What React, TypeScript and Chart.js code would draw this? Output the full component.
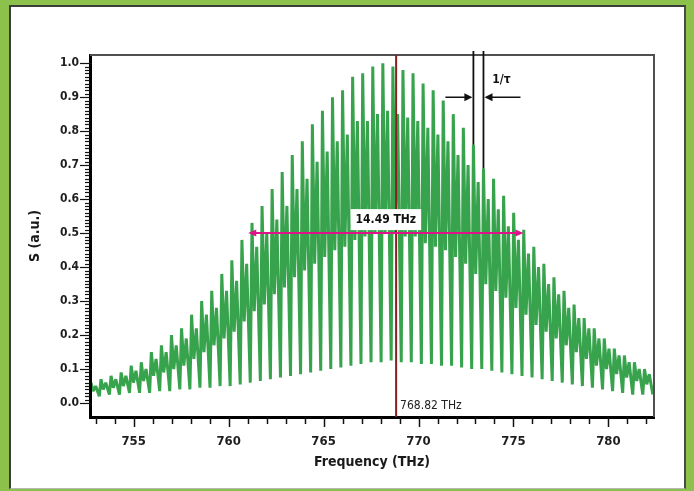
import React, { useEffect, useRef } from 'react';
import { Chart, registerables } from 'chart.js';

Chart.register(...registerables);

// ---- Data ----
const fringeFreqs = [
  752.75, 753.28, 753.81, 754.34, 754.87, 755.40, 755.93, 756.46, 756.99, 757.52,
  758.05, 758.58, 759.11, 759.64, 760.17, 760.70, 761.23, 761.76, 762.29, 762.82,
  763.35, 763.88, 764.41, 764.94, 765.47, 766.00, 766.53, 767.06, 767.59, 768.12,
  768.65, 769.18, 769.71, 770.24, 770.77, 771.30, 771.83, 772.36, 772.89, 773.42,
  773.95, 774.48, 775.01, 775.54, 776.07, 776.60, 777.13, 777.66, 778.19, 778.72,
  779.25, 779.78, 780.31, 780.84, 781.37, 781.90,
];
const peakS = [
  0.06, 0.07, 0.08, 0.09, 0.11, 0.12, 0.15, 0.17, 0.20, 0.22,
  0.26, 0.30, 0.33, 0.38, 0.42, 0.48, 0.53, 0.58, 0.63, 0.68,
  0.73, 0.77, 0.82, 0.86, 0.90, 0.92, 0.96, 0.97, 0.99, 1.00,
  0.99, 0.98, 0.97, 0.94, 0.92, 0.89, 0.85, 0.81, 0.76, 0.69,
  0.66, 0.61, 0.56, 0.51, 0.46, 0.41, 0.37, 0.33, 0.29, 0.25,
  0.22, 0.19, 0.16, 0.14, 0.12, 0.10,
];
const dipS = [
  0.035, 0.04, 0.045, 0.05, 0.06, 0.065, 0.08, 0.09, 0.10, 0.11,
  0.13, 0.15, 0.17, 0.19, 0.21, 0.24, 0.27, 0.29, 0.32, 0.34,
  0.37, 0.39, 0.41, 0.43, 0.45, 0.46, 0.48, 0.49, 0.50, 0.50,
  0.50, 0.49, 0.49, 0.47, 0.46, 0.45, 0.43, 0.41, 0.38, 0.35,
  0.33, 0.31, 0.28, 0.26, 0.23, 0.21, 0.19, 0.17, 0.15, 0.13,
  0.11, 0.10, 0.085, 0.075, 0.065, 0.055,
];
const midS = [
  0.05, 0.06, 0.07, 0.08, 0.095, 0.10, 0.13, 0.15, 0.17, 0.19,
  0.22, 0.26, 0.28, 0.33, 0.36, 0.41, 0.46, 0.50, 0.54, 0.58,
  0.63, 0.66, 0.71, 0.74, 0.77, 0.79, 0.83, 0.83, 0.85, 0.86,
  0.85, 0.84, 0.83, 0.81, 0.79, 0.77, 0.73, 0.70, 0.65, 0.60,
  0.57, 0.52, 0.48, 0.44, 0.40, 0.35, 0.32, 0.28, 0.25, 0.22,
  0.19, 0.16, 0.14, 0.12, 0.10, 0.085,
];
const troughS = [
  0.02, 0.02, 0.025, 0.025, 0.03, 0.03, 0.03, 0.035, 0.035, 0.04,
  0.04, 0.045, 0.045, 0.05, 0.05, 0.055, 0.06, 0.065, 0.07, 0.075,
  0.08, 0.085, 0.09, 0.095, 0.10, 0.105, 0.11, 0.115, 0.12, 0.12,
  0.125, 0.12, 0.12, 0.115, 0.115, 0.11, 0.11, 0.105, 0.10, 0.10,
  0.095, 0.09, 0.085, 0.08, 0.075, 0.07, 0.065, 0.06, 0.055, 0.05,
  0.045, 0.04, 0.035, 0.03, 0.025, 0.025,
];

const xTickValues = [755, 760, 765, 770, 775, 780];
const yTickValues = [0.0, 0.1, 0.2, 0.3, 0.4, 0.5, 0.6, 0.7, 0.8, 0.9, 1.0];

const X_MIN = 752.7;
const X_MAX = 782.4;
const Y_MIN = -0.041;
const Y_MAX = 1.024;

const centerFreq = 768.82;
const centerLabel = '768.82 THz';
const fwhmCenter = 768.28;
const fwhm = 14.49;
const fwhmLabel = '14.49 THz';
const halfLevel = 0.5;
const tauFringes = [38, 39];
const tauArrowLevel = 0.9;
const tauLabel = '1/τ';

// position of the sub-features inside one fringe (THz, relative to the peak)
const troughOffset = -0.09;
const dipOffset = 0.12;
const midOffset = 0.25;
const lastTroughOffset = 0.44;

const FONT = "'DejaVu Sans Condensed', 'Liberation Sans Narrow', 'DejaVu Sans', sans-serif";

function buildPoints() {
  const pts: { x: number; y: number }[] = [];
  for (let i = 0; i < fringeFreqs.length; i++) {
    const f = fringeFreqs[i];
    pts.push({ x: f + troughOffset, y: troughS[i] });
    pts.push({ x: f, y: peakS[i] });
    pts.push({ x: f + dipOffset, y: dipS[i] });
    pts.push({ x: f + midOffset, y: midS[i] });
  }
  const last = fringeFreqs.length - 1;
  pts.push({ x: fringeFreqs[last] + lastTroughOffset, y: troughS[last] });
  return pts;
}

function arrowHead(ctx: CanvasRenderingContext2D, tipX: number, tipY: number, dir: number, len: number, half: number) {
  ctx.beginPath();
  ctx.moveTo(tipX, tipY);
  ctx.lineTo(tipX - dir * len, tipY - half);
  ctx.lineTo(tipX - dir * len, tipY + half);
  ctx.closePath();
  ctx.fill();
}

const overlayPlugin = {
  id: 'overlay',
  afterDraw(chart: any) {
    const { ctx, chartArea: ca } = chart;
    const xs = chart.scales.x;
    const ys = chart.scales.y;
    ctx.save();

    // top / right frame
    ctx.strokeStyle = '#505050';
    ctx.lineWidth = 2;
    ctx.beginPath();
    ctx.moveTo(ca.left, ca.top);
    ctx.lineTo(ca.right, ca.top);
    ctx.lineTo(ca.right, ca.bottom);
    ctx.stroke();

    // ticks
    ctx.strokeStyle = '#111';
    ctx.lineWidth = 1.5;
    for (let v = Math.ceil(X_MIN); v <= X_MAX; v += 1) {
      const px = Math.round(xs.getPixelForValue(v)) + 0.5;
      const major = xTickValues.includes(v);
      ctx.beginPath();
      ctx.moveTo(px, ca.bottom);
      ctx.lineTo(px, ca.bottom + (major ? 10 : 7));
      ctx.stroke();
    }
    ctx.lineWidth = 1.2;
    for (let k = 0; k <= 100; k++) {
      const v = k / 100;
      const py = Math.round(ys.getPixelForValue(v)) + 0.5;
      const major = k % 10 === 0;
      ctx.beginPath();
      ctx.moveTo(ca.left - (major ? 10 : 5), py);
      ctx.lineTo(ca.left + (major ? 2 : 0), py);
      ctx.stroke();
    }

    // centre frequency line
    const rx = xs.getPixelForValue(centerFreq);
    ctx.strokeStyle = '#8b1e1e';
    ctx.lineWidth = 2;
    ctx.beginPath();
    ctx.moveTo(rx, ca.top);
    ctx.lineTo(rx, ca.bottom);
    ctx.stroke();

    // centre label
    ctx.font = `12px ${FONT}`;
    const cw = ctx.measureText(centerLabel).width;
    ctx.fillStyle = '#fff';
    ctx.fillRect(rx + 2, ca.bottom - 20, cw + 6, 19);
    ctx.fillStyle = '#222';
    ctx.textBaseline = 'middle';
    ctx.textAlign = 'left';
    ctx.fillText(centerLabel, rx + 4, ca.bottom - 11);

    // FWHM arrow
    const hy = ys.getPixelForValue(halfLevel);
    const x1 = xs.getPixelForValue(fwhmCenter - fwhm / 2);
    const x2 = xs.getPixelForValue(fwhmCenter + fwhm / 2);
    ctx.strokeStyle = '#e0128a';
    ctx.fillStyle = '#e0128a';
    ctx.lineWidth = 2;
    ctx.beginPath();
    ctx.moveTo(x1 + 4, hy);
    ctx.lineTo(x2 - 4, hy);
    ctx.stroke();
    arrowHead(ctx, x1, hy, -1, 8, 3.5);
    arrowHead(ctx, x2, hy, 1, 8, 3.5);

    const fx = xs.getPixelForValue(fwhmCenter);
    ctx.font = `bold 12px ${FONT}`;
    const fw = ctx.measureText(fwhmLabel).width;
    ctx.fillStyle = '#fff';
    ctx.fillRect(fx - fw / 2 - 5, hy - 24, fw + 10, 21);
    ctx.fillStyle = '#111';
    ctx.textAlign = 'center';
    ctx.fillText(fwhmLabel, fx, hy - 13);

    // 1/tau markers
    const ty = ys.getPixelForValue(tauArrowLevel);
    const lx = xs.getPixelForValue(fringeFreqs[tauFringes[0]]);
    const rx2 = xs.getPixelForValue(fringeFreqs[tauFringes[1]]);
    ctx.strokeStyle = '#111';
    ctx.fillStyle = '#111';
    ctx.lineWidth = 1.8;
    ctx.beginPath();
    ctx.moveTo(lx, ca.top - 4);
    ctx.lineTo(lx, ys.getPixelForValue(peakS[tauFringes[0]]));
    ctx.moveTo(rx2, ca.top - 4);
    ctx.lineTo(rx2, ys.getPixelForValue(peakS[tauFringes[1]]));
    ctx.stroke();
    ctx.lineWidth = 1.5;
    ctx.beginPath();
    ctx.moveTo(lx - 28, ty);
    ctx.lineTo(lx - 6, ty);
    ctx.moveTo(rx2 + 37, ty);
    ctx.lineTo(rx2 + 6, ty);
    ctx.stroke();
    arrowHead(ctx, lx - 1, ty, 1, 8, 4);
    arrowHead(ctx, rx2 + 1, ty, -1, 8, 4);
    ctx.font = `bold 12px ${FONT}`;
    ctx.textAlign = 'center';
    ctx.fillText(tauLabel, rx2 + 18, ty - 17);

    ctx.restore();
  },
};

export default function App() {
  const ref = useRef<HTMLCanvasElement | null>(null);

  useEffect(() => {
    const canvas = ref.current;
    if (!canvas) return;
    const chart = new Chart(canvas, {
      type: 'line',
      data: {
        datasets: [
          {
            data: buildPoints(),
            borderColor: '#38a34d',
            borderWidth: 3,
            borderJoinStyle: 'bevel',
            borderCapStyle: 'butt',
            pointRadius: 0,
            tension: 0,
            fill: false,
          },
        ],
      },
      options: {
        responsive: false,
        animation: false,
        events: [],
        layout: { padding: { left: 0, top: 55, right: 40, bottom: 0 } },
        plugins: { legend: { display: false }, tooltip: { enabled: false } },
        scales: {
          x: {
            type: 'linear',
            min: X_MIN,
            max: X_MAX,
            afterBuildTicks: (s: any) => {
              s.ticks = xTickValues.map((v) => ({ value: v }));
            },
            afterFit: (s: any) => {
              s.height = 74;
            },
            grid: { display: false, drawTicks: false },
            border: { display: true, color: '#000', width: 3, z: 1 },
            ticks: {
              padding: 17,
              color: '#1e1e1e',
              autoSkip: false,
              maxRotation: 0,
              font: { family: FONT, size: 13, weight: 'bold' },
              callback: (v: any) => String(v),
            },
            title: {
              display: true,
              text: 'Frequency (THz)',
              color: '#1a1a1a',
              font: { family: FONT, size: 14, weight: 'bold' },
              padding: { top: 0, bottom: 20 },
            },
          },
          y: {
            type: 'linear',
            min: Y_MIN,
            max: Y_MAX,
            afterBuildTicks: (s: any) => {
              s.ticks = yTickValues.map((v) => ({ value: v }));
            },
            afterFit: (s: any) => {
              s.width = 90;
            },
            grid: { display: false, drawTicks: false },
            border: { display: true, color: '#000', width: 3, z: 1 },
            ticks: {
              padding: 11,
              color: '#1e1e1e',
              autoSkip: false,
              font: { family: FONT, size: 12, weight: 'bold' },
              callback: (v: any) => Number(v).toFixed(1),
            },
            title: {
              display: true,
              text: 'S (a.u.)',
              color: '#1a1a1a',
              font: { family: FONT, size: 14, weight: 'bold' },
              padding: { top: 27, bottom: 0 },
            },
          },
        },
      },
      plugins: [overlayPlugin],
    } as any);
    return () => chart.destroy();
  }, []);

  return (
    <div
      style={{
        position: 'fixed',
        left: 0,
        top: 0,
        width: 694,
        height: 491,
        background: '#8cc24b',
        overflow: 'hidden',
      }}
    >
      <div
        style={{
          position: 'absolute',
          left: 9,
          top: 5,
          width: 677,
          height: 484,
          background: '#fff',
          boxSizing: 'border-box',
          borderTop: '2px solid #3c3c3c',
          borderLeft: '2px solid #3c3c3c',
          borderRight: '2px solid #4a4a4a',
          borderBottom: '1px solid #b8b8b8',
        }}
      />
      <canvas ref={ref} width={694} height={491} style={{ position: 'absolute', left: 0, top: 0 }} />
    </div>
  );
}
